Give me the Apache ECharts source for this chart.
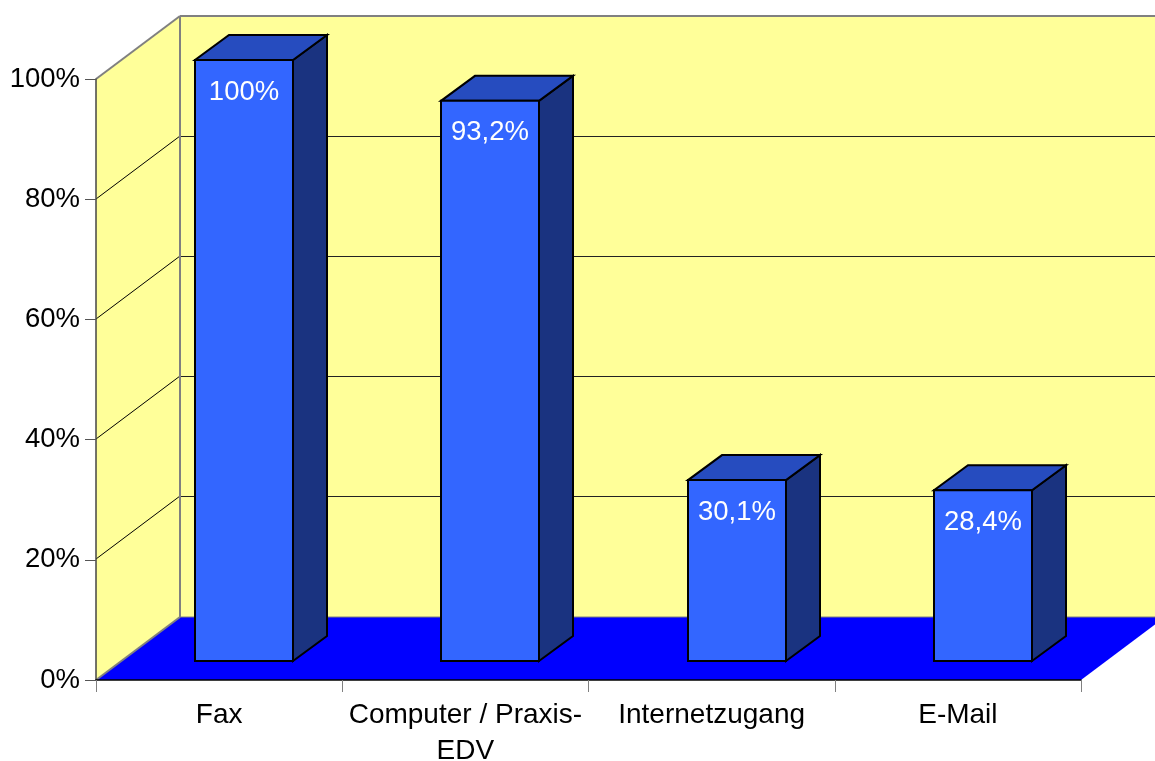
<!DOCTYPE html>
<html>
<head>
<meta charset="utf-8">
<style>html,body{margin:0;padding:0;background:#fff}#c{width:1155px;height:761px}</style>
<script src="https://cdn.jsdelivr.net/npm/echarts@6/dist/echarts.min.js"></script>
</head>
<body>
<div id="c"></div>
<script>
const categories = ['Fax', 'Computer / Praxis-\nEDV', 'Internetzugang', 'E-Mail'];
const values = [100, 93.2, 30.1, 28.4];
const wallTicks = [20, 40, 60, 80];

const FONT = '"Liberation Sans", Arial, sans-serif';
const FLOOR_DX = 84, FLOOR_DY = -63;     // wall depth
const BAR_DX = 25, BAR_DY = -19;         // bar placement inside the floor
const DEPTH_DX = 34, DEPTH_DY = -25;     // bar depth
const BAR_W = 98;

const poly = (points, fill, stroke, lineWidth) => ({
  type: 'polygon',
  shape: { points },
  style: { fill, stroke: stroke || null, lineWidth: lineWidth || 0, lineJoin: 'miter' }
});
const line = (p, q, stroke, lineWidth) => ({
  type: 'line',
  shape: { x1: p[0], y1: p[1], x2: q[0], y2: q[1] },
  style: { stroke, lineWidth, fill: null }
});

function renderWalls(params, api) {
  const cs = params.coordSys;
  const L = cs.x, R = cs.x + cs.width;
  const y0 = api.coord([0, 0])[1], y100 = api.coord([0, 100])[1];
  const bx = L + FLOOR_DX;
  const children = [
    poly([[L, y0], [bx, y0 + FLOOR_DY], [bx, y100 + FLOOR_DY], [L, y100]], '#FFFF99'),
    poly([[bx, y100 + FLOOR_DY], [R + FLOOR_DX, y100 + FLOOR_DY], [R + FLOOR_DX, y0 + FLOOR_DY], [bx, y0 + FLOOR_DY]], '#FFFF99'),
    poly([[L, y0], [R, y0], [R + FLOOR_DX, y0 + FLOOR_DY], [bx, y0 + FLOOR_DY]], '#0000FF')
  ];
  wallTicks.forEach(t => {
    const y = Math.floor(api.coord([0, t])[1]);
    children.push(line([L, y], [bx, y + FLOOR_DY], '#000', 1));
    children.push(line([bx, y + FLOOR_DY + 0.5], [R + FLOOR_DX, y + FLOOR_DY + 0.5], '#222', 1));
  });
  children.push(
    line([L, y100], [bx, y100 + FLOOR_DY], '#808080', 2),
    line([bx, y100 + FLOOR_DY], [R + FLOOR_DX, y100 + FLOOR_DY], '#808080', 2),
    line([bx, y100 + FLOOR_DY], [bx, y0 + FLOOR_DY], '#808080', 2),
    line([L, y0], [bx, y0 + FLOOR_DY], '#808080', 2),
    line([bx, y0 + FLOOR_DY], [R + FLOOR_DX, y0 + FLOOR_DY], '#808080', 1)
  );
  return { type: 'group', children };
}

function renderBar(params, api) {
  const v = api.value(1);
  const c = api.coord([api.value(0), v]);
  const base = api.coord([api.value(0), 0]);
  const l = Math.round(c[0] + BAR_DX - BAR_W / 2), r = l + BAR_W;
  const b = base[1] + BAR_DY, t = c[1] + BAR_DY;
  const dx = DEPTH_DX, dy = DEPTH_DY;
  return {
    type: 'group',
    children: [
      poly([[r, b], [r + dx, b + dy], [r + dx, t + dy], [r, t]], '#1A3380', '#000', 2),
      poly([[l, t], [r, t], [r + dx, t + dy], [l + dx, t + dy]], '#264CBF', '#000', 2),
      poly([[l, t], [r, t], [r, b], [l, b]], '#3366FF', '#000', 2),
      {
        type: 'text',
        style: {
          x: (l + r) / 2, y: t + 32,
          text: String(v).replace('.', ',') + '%',
          fill: '#fff', font: '27.5px ' + FONT, align: 'center', verticalAlign: 'middle'
        }
      }
    ]
  };
}

const chart = echarts.init(document.getElementById('c'), null, { renderer: 'canvas' });
chart.setOption({
  animation: false,
  backgroundColor: '#fff',
  grid: { left: 96, top: 79, width: 985, height: 601, containLabel: false, outerBoundsMode: 'none' },
  xAxis: {
    type: 'category',
    data: categories,
    z: 10,
    axisLine: { lineStyle: { color: '#000', width: 1.5 } },
    axisTick: { show: true, length: 12, lineStyle: { color: '#808080', width: 1 } },
    axisLabel: { color: '#000', fontFamily: FONT, fontSize: 28, lineHeight: 36.5, margin: 17, interval: 0 }
  },
  yAxis: {
    type: 'value',
    min: 0, max: 100, interval: 20,
    z: 10,
    splitLine: { show: false },
    axisLine: { show: true, lineStyle: { color: '#444', width: 1.5 } },
    axisTick: { show: true, length: 11, lineStyle: { color: '#555', width: 1 } },
    axisLabel: { color: '#000', fontFamily: FONT, fontSize: 27.5, margin: 16, padding: [3, 0, 0, 0], formatter: '{value}%' }
  },
  series: [
    { type: 'custom', silent: true, z: 1, clip: false, renderItem: renderWalls, data: [[0, 0]], encode: { x: 0, y: 1 } },
    { type: 'custom', silent: true, z: 2, clip: false, renderItem: renderBar,
      data: values.map((v, i) => [i, v]), encode: { x: 0, y: 1 } }
  ]
});
</script>
</body>
</html>
